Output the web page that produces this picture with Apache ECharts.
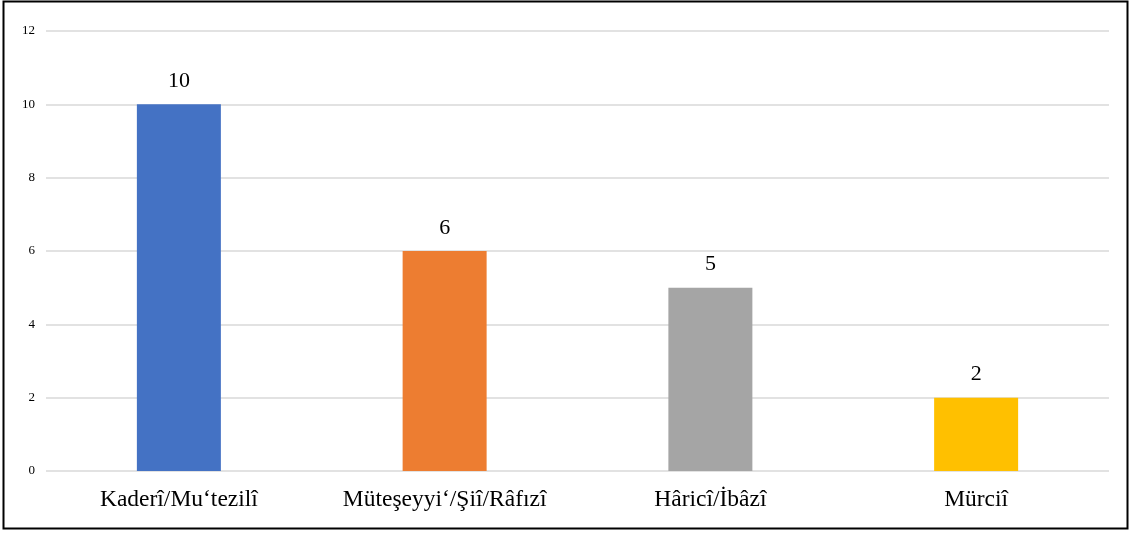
<!DOCTYPE html>
<html>
<head>
<meta charset="utf-8">
<script src="https://cdn.jsdelivr.net/npm/echarts@6/dist/echarts.min.js"></script>
<style>
html,body{margin:0;padding:0;background:#fff;}
#chart{width:1130px;height:534px;}
</style>
</head>
<body>
<div id="chart"></div>
<script>
const categories = ['Kaderî/Mu‘tezilî', 'Müteşeyyi‘/Şiî/Râfızî', 'Hâricî/İbâzî', 'Mürciî'];
const values = [10, 6, 5, 2];
const barColors = ['#4472C4', '#ED7D31', '#A5A5A5', '#FFC000'];
const yTicks = [0, 2, 4, 6, 8, 10, 12];

const chart = echarts.init(document.getElementById('chart'), null, {renderer: 'canvas'});
const serif = '"Liberation Serif", "DejaVu Serif", serif';
chart.setOption({
  animation: false,
  backgroundColor: '#fff',
  graphic: [{
    type: 'rect',
    shape: {x: 3.5, y: 1.5, width: 1124, height: 527},
    style: {fill: 'none', stroke: '#000', lineWidth: 2},
    silent: true
  }],
  grid: {left: 46, right: 21, top: 31, bottom: 63},
  xAxis: {
    type: 'category',
    data: categories,
    axisLine: {show: false},
    axisTick: {show: false},
    axisLabel: {interval: 0, hideOverlap: false, fontFamily: serif, fontSize: 23.5, color: '#000', margin: 17}
  },
  yAxis: {
    type: 'value',
    min: yTicks[0],
    max: yTicks[yTicks.length - 1],
    interval: 2,
    axisLine: {show: false},
    axisTick: {show: false},
    splitLine: {lineStyle: {color: '#D9D9D9', width: 1.5}},
    axisLabel: {fontFamily: serif, fontSize: 13, color: '#000', margin: 11}
  },
  series: [{
    type: 'bar',
    barWidth: 84,
    data: values.map((v, i) => ({value: v, itemStyle: {color: barColors[i]}})),
    label: {show: true, position: 'top', distance: 12, fontFamily: serif, fontSize: 22, color: '#000'}
  }]
});
</script>
</body>
</html>
